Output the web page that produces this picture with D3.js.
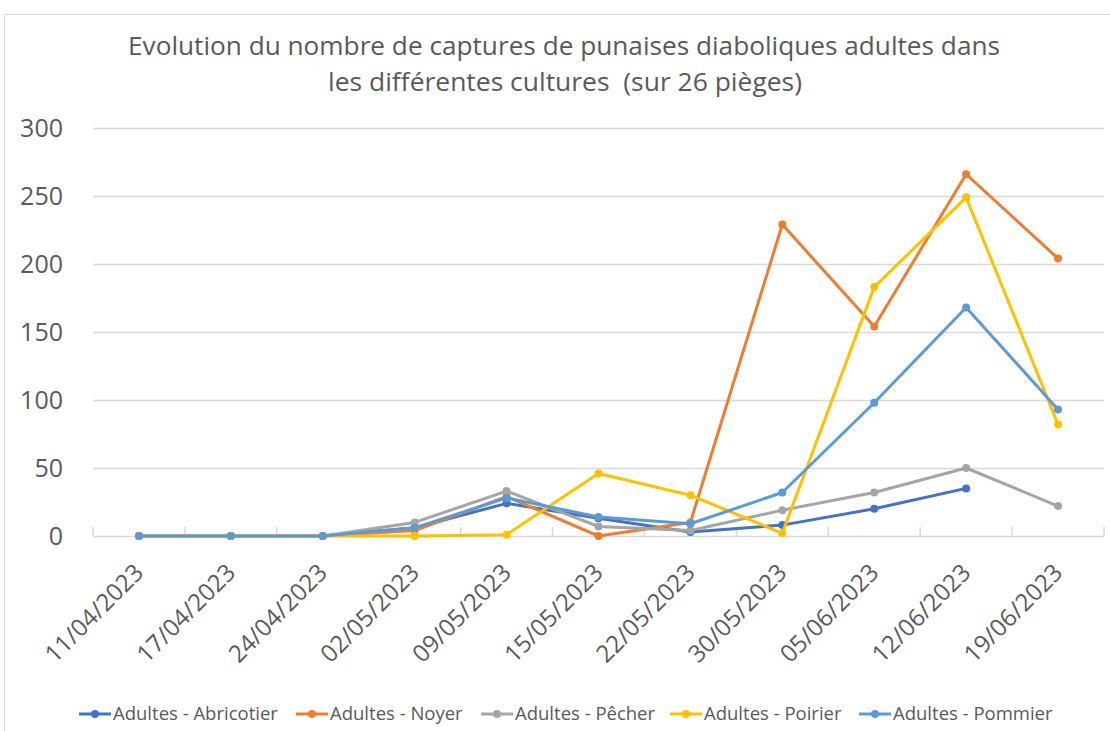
<!DOCTYPE html>
<html>
<head>
<meta charset="utf-8">
<script src="https://cdn.jsdelivr.net/npm/d3@7"></script>
<style>
  body { margin: 0; background: #fff; }
  svg { display: block; font-family: "Open Sans", "Liberation Sans", Arial, sans-serif; }
</style>
</head>
<body>
<svg id="chart" width="1110" height="731"></svg>
<script>
const dates = ["11/04/2023", "17/04/2023", "24/04/2023", "02/05/2023", "09/05/2023",
    "15/05/2023", "22/05/2023", "30/05/2023", "05/06/2023", "12/06/2023", "19/06/2023"];

const abricotier = [0, 0, 0, 6, 24, 13, 3, 8, 20, 35, null];
const noyer = [0, 0, 0, 4, 29, 0, 10, 229, 154, 266, 204];
const pecher = [0, 0, 0, 10, 33, 7, 4, 19, 32, 50, 22];
const poirier = [0, 0, 0, 0, 1, 46, 30, 2, 183, 249, 82];
const pommier = [0, 0, 0, 6, 28, 14, 9, 32, 98, 168, 93];

const yTicks = [0, 50, 100, 150, 200, 250, 300];

const series = [
    { name: "Adultes - Abricotier", color: "#4472C4", values: abricotier },
    { name: "Adultes - Noyer", color: "#ED7D31", values: noyer },
    { name: "Adultes - Pêcher", color: "#A5A5A5", values: pecher },
    { name: "Adultes - Poirier", color: "#FFC000", values: poirier },
    { name: "Adultes - Pommier", color: "#5B9BD5", values: pommier }
];

const svg = d3.select("#chart");
const plot = { left: 93, right: 1104, top: 128, bottom: 536 };
const textColor = "#595959";

// frame of the chart area
svg.append("path")
    .attr("d", "M4.5,731 V14.5 H1110")
    .attr("fill", "none")
    .attr("stroke", "#d9d9d9")
    .attr("stroke-width", 1);

const x = d3.scaleBand().domain(dates).range([plot.left, plot.right]);
const y = d3.scaleLinear().domain([0, 300]).range([plot.bottom, plot.top]);

// title (Calibri-like, so squeezed a little)
svg.append("text")
    .attr("x", 564).attr("y", 55)
    .attr("text-anchor", "middle")
    .attr("font-size", 25)
    .attr("fill", textColor)
    .attr("textLength", 872)
    .attr("lengthAdjust", "spacingAndGlyphs")
    .text("Evolution du nombre de captures de punaises diaboliques adultes dans");
svg.append("text")
    .attr("x", 565).attr("y", 91)
    .attr("text-anchor", "middle")
    .attr("font-size", 25)
    .attr("fill", textColor)
    .attr("textLength", 474)
    .attr("lengthAdjust", "spacingAndGlyphs")
    .attr("xml:space", "preserve")
    .text("les différentes cultures  (sur 26 pièges)");

// gridlines + y labels
const yAxis = svg.append("g")
    .attr("transform", `translate(${plot.left},0)`)
    .call(d3.axisLeft(y).tickValues(yTicks).tickSize(-(plot.right - plot.left)).tickPadding(30));
yAxis.select(".domain").remove();
yAxis.selectAll(".tick line").attr("stroke", "#d9d9d9").attr("stroke-width", 1.5);
yAxis.selectAll(".tick text")
    .attr("font-size", 25)
    .attr("fill", textColor)
    .attr("font-family", "Open Sans, sans-serif");

// x axis ticks at band boundaries
const bounds = dates.map(d => x(d)).concat([plot.right]);
svg.append("g").selectAll("line").data(bounds).join("line")
    .attr("x1", d => d).attr("x2", d => d)
    .attr("y1", plot.bottom - 9).attr("y2", plot.bottom)
    .attr("stroke", "#d9d9d9").attr("stroke-width", 1.5);

// x labels
const cx = d => x(d) + x.bandwidth() / 2;
svg.append("g").selectAll("text").data(dates).join("text")
    .attr("transform", d => `translate(${cx(d) + 6},${plot.bottom + 38}) rotate(-45)`)
    .attr("text-anchor", "end")
    .attr("font-size", 24)
    .attr("fill", textColor)
    .text(d => d);

// lines
const line = d3.line()
    .defined(d => d.v !== null)
    .x(d => cx(d.date))
    .y(d => y(d.v));

series.forEach(s => {
    const pts = dates.map((date, i) => ({ date, v: s.values[i] }));
    const g = svg.append("g");
    g.append("path")
        .datum(pts)
        .attr("d", line)
        .attr("fill", "none")
        .attr("stroke", s.color)
        .attr("stroke-width", 3)
        .attr("stroke-linejoin", "round");
    g.selectAll("circle").data(pts.filter(p => p.v !== null)).join("circle")
        .attr("cx", p => cx(p.date))
        .attr("cy", p => y(p.v))
        .attr("r", 4)
        .attr("fill", s.color);
});

// legend
const legendX = [79, 296, 481, 670, 859];
const legend = svg.append("g").selectAll("g").data(series).join("g")
    .attr("transform", (d, i) => `translate(${legendX[i]},714)`);
legend.append("line")
    .attr("x1", 0).attr("x2", 32)
    .attr("stroke", d => d.color).attr("stroke-width", 3);
legend.append("circle")
    .attr("cx", 16).attr("r", 4).attr("fill", d => d.color);
legend.append("text")
    .attr("x", 34).attr("dy", "0.35em")
    .attr("font-size", 18.5)
    .attr("fill", textColor)
    .text(d => d.name);
</script>
</body>
</html>
